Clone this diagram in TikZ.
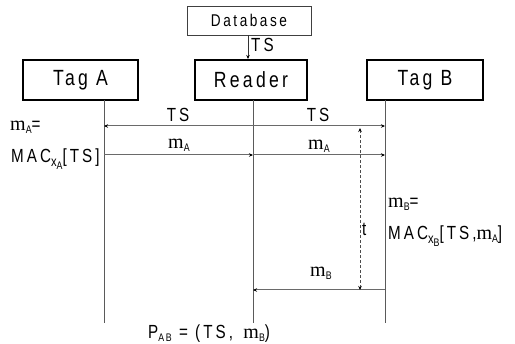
\documentclass[tikz,border=0pt]{standalone}
\usepackage{fontspec}
\setmainfont{Liberation Sans}[FakeStretch=0.8,LetterSpace=16]
\newfontfamily\boxfont{Liberation Sans}[FakeStretch=0.8,LetterSpace=15]
\newfontfamily\mfont{Liberation Serif}
\usetikzlibrary{arrows.meta}
\newcommand{\msym}{{\mfont\fontsize{20}{22}\selectfont m}}
\newcommand{\subA}[1]{\raisebox{-3pt}{\fontsize{11}{11}\selectfont #1}}
\newcommand{\subX}[1]{\raisebox{-4pt}{\fontsize{14}{14}\selectfont x\raisebox{-2.5pt}{\fontsize{11}{11}\selectfont #1}}}
\definecolor{linegray}{HTML}{6A6A6A}
\definecolor{lifegray}{HTML}{5A5A5A}
\tikzset{
  tagbox/.style={draw=black, line width=2pt, minimum height=40pt, inner sep=0pt, font=\boxfont\fontsize{22}{26}\selectfont},
  dbbox/.style={draw=black!75, line width=0.8pt, minimum height=29pt, minimum width=124pt, inner sep=0pt, font=\boxfont\fontsize{17}{20}\selectfont},
  lifeline/.style={draw=lifegray, line width=0.8pt},
  msg/.style={draw=linegray, line width=1pt, -{Stealth[length=4pt,width=3.5pt,color=black]}},
  msgdash/.style={draw=black!70, line width=0.7pt, dashed, dash pattern=on 3pt off 2pt, {Stealth[length=4pt,width=3.5pt,color=black]}-{Stealth[length=4pt,width=3.5pt,color=black]}},
  lbl/.style={inner sep=0pt, font=\fontsize{19}{22}\selectfont},
}
\begin{document}
\begin{tikzpicture}[x=1pt,y=-1pt]
\useasboundingbox (0,0) rectangle (515,344);
% boxes
\node[dbbox] (db) at (249,20.5) {Database};
\node[tagbox, minimum width=115pt] (tagA) at (80.5,80) {Tag A};
\node[tagbox, minimum width=112pt] (reader) at (251,80) {Reader};
\node[tagbox, minimum width=116pt] (tagB) at (425,80) {Tag B};
% lifeline coordinates
\coordinate (aTop) at (104,100);
\coordinate (aEnd) at (104,323);
\coordinate (rTop) at (253,100);
\coordinate (rEnd) at (253,323);
\coordinate (bTop) at (385,100);
\coordinate (bEnd) at (385,323);
\draw[lifeline] (aTop) -- (aEnd);
\draw[lifeline] (rTop) -- (rEnd);
\draw[lifeline] (bTop) -- (bEnd);
% database to reader
\coordinate (dbOut) at (248,35.5);
\coordinate (rIn) at (248,59);
\draw[msg, draw=black!80, line width=0.8pt] (dbOut) -- (rIn);
\node[lbl, anchor=base west] (tsdb) at (251,52) {TS};
% message coordinates
\coordinate (rTS) at (253,126);
\coordinate (aTS) at (104,126);
\coordinate (bTS) at (385,126);
\coordinate (aMA) at (104,155);
\coordinate (rMA) at (253,155);
\coordinate (bMA) at (385,155);
\coordinate (bMB) at (385,290);
\coordinate (rMB) at (253,290);
\coordinate (tTop) at (360,128);
\coordinate (tBot) at (360,290);
\draw[msg] (rTS) -- (aTS);
\draw[msg] (rTS) -- (bTS);
\draw[msg] (aMA) -- (rMA);
\draw[msg] (rMA) -- (bMA);
\draw[msg] (bMB) -- (rMB);
\draw[msgdash] (tTop) -- (tBot);
% labels
\node[lbl, anchor=base] (lts1) at (178,122) {TS};
\node[lbl, anchor=base] (lts2) at (318,122) {TS};
\node[lbl, anchor=base west] (lma1) at (168,149) {\msym\subA{A}};
\node[lbl, anchor=base west] (lma2) at (308,150) {\msym\subA{A}};
\node[lbl, anchor=base west] (lmb) at (310,277) {\msym\subA{B}};
\node[lbl, anchor=base west] (lt) at (362,236) {t};
\node[lbl, anchor=base west] (ma) at (10,131) {\msym\subA{A}=};
\node[lbl, anchor=base west] (maca) at (11,163) {MAC\subX{A}[TS]};
\node[lbl, anchor=base west] (mb) at (388,208) {\msym\subA{B}=};
\node[lbl, anchor=base west] (macb) at (388,240) {MAC\subX{B}[TS,\msym\subA{A}]};
\node[lbl, anchor=base west] (pab) at (148,339) {P\subA{AB} = (TS,\, \msym\subA{B})};
\end{tikzpicture}
\end{document}
